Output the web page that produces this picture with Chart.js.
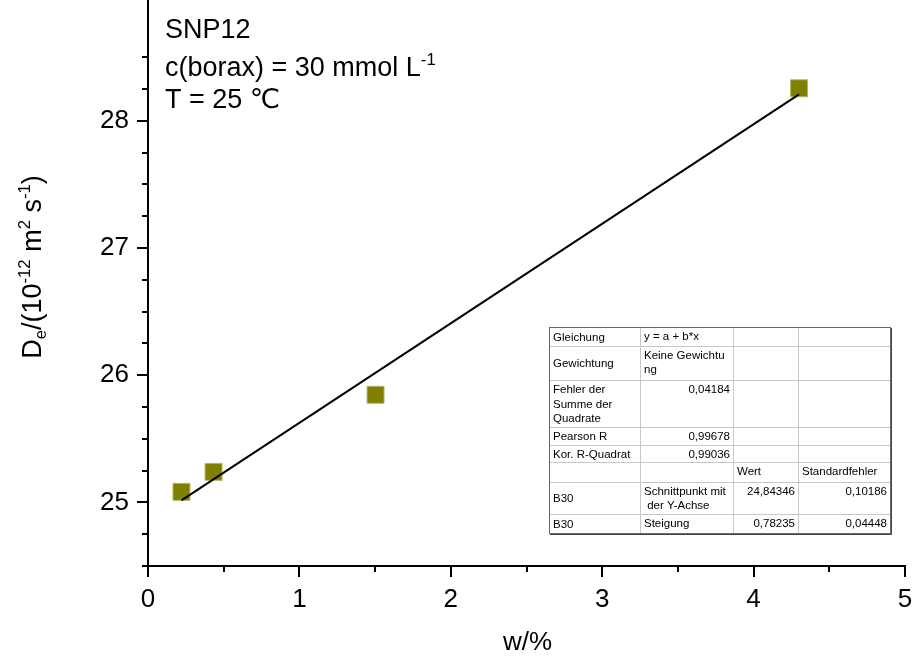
<!DOCTYPE html>
<html>
<head>
<meta charset="utf-8">
<script src="https://cdn.jsdelivr.net/npm/chart.js@4/dist/chart.umd.min.js"></script>
<style>
  html, body { margin: 0; padding: 0; background: #ffffff; }
  #wrap { width: 915px; height: 661px; position: relative; }
</style>
</head>
<body>
<div id="wrap"><canvas id="c" width="915" height="661"></canvas></div>
<script>
// Measured effective diffusion coefficients vs. SNP12 mass fraction
const massFraction = [0.221, 0.433, 1.503, 4.30];
const diffusionCoeff = [25.083, 25.24, 25.846, 28.256];

// Linear fit y = a + b*x
const fitIntercept = 24.84346;
const fitSlope = 0.78235;

// Axis ranges and tick steps
const xRange = [0, 5];
const yRange = [24.5, 28.95];
const xMinorStep = 0.5;
const yMinorStep = 0.25;

// Annotation text
const noteLines = [
  [{ t: 'SNP12' }],
  [{ t: 'c(borax) = 30 mmol L' }, { t: '-1', sup: true }],
  [{ t: 'T = 25 \u2103' }]
];

// Axis titles
const xTitle = 'w/%';
const yTitleParts = [
  { t: 'D' }, { t: 'e', sub: true }, { t: '/(10' }, { t: '-12', sup: true },
  { t: ' m' }, { t: '2', sup: true }, { t: ' s' }, { t: '-1', sup: true }, { t: ')' }
];

// Fit report table
const tableRows = [
  ['Gleichung', 'y = a + b*x', '', ''],
  ['Gewichtung', 'Keine Gewichtu\nng', '', ''],
  ['Fehler der\nSumme der\nQuadrate', '0,04184', '', ''],
  ['Pearson R', '0,99678', '', ''],
  ['Kor. R-Quadrat', '0,99036', '', ''],
  ['', '', 'Wert', 'Standardfehler'],
  ['B30', 'Schnittpunkt mit\n der Y-Achse', '24,84346', '0,10186'],
  ['B30', 'Steigung', '0,78235', '0,04448']
];

const FONT = '"Liberation Sans", Arial, "DejaVu Sans", sans-serif';
const fitX = [Math.min(...massFraction), Math.max(...massFraction)];
const fitLine = fitX.map(x => ({ x: x, y: fitIntercept + fitSlope * x }));
const points = massFraction.map((x, i) => ({ x: x, y: diffusionCoeff[i] }));

function drawRich(ctx, parts, x, y, size) {
  let cx = x;
  parts.forEach(p => {
    const s = (p.sub || p.sup) ? size * 0.62 : size;
    ctx.font = s + 'px ' + FONT;
    let dy = 0;
    if (p.sup) dy = -size * 0.42;
    if (p.sub) dy = size * 0.2;
    ctx.fillText(p.t, cx, y + dy);
    cx += ctx.measureText(p.t).width;
  });
  return cx - x;
}
function richWidth(ctx, parts, size) {
  let w = 0;
  parts.forEach(p => {
    const s = (p.sub || p.sup) ? size * 0.62 : size;
    ctx.font = s + 'px ' + FONT;
    w += ctx.measureText(p.t).width;
  });
  return w;
}

const decorations = {
  id: 'decorations',
  afterDraw(chart) {
    const ctx = chart.ctx;
    const xs = chart.scales.x, ys = chart.scales.y;
    const area = chart.chartArea;
    ctx.save();
    ctx.strokeStyle = '#000';
    ctx.lineWidth = 2;
    ctx.lineCap = 'butt';
    // tick marks (outward), major long, minor short
    xs.ticks.forEach(t => {
      const px = Math.round(xs.getPixelForValue(t.value));
      const major = Math.abs(t.value - Math.round(t.value)) < 1e-6;
      ctx.beginPath();
      ctx.moveTo(px, area.bottom);
      ctx.lineTo(px, area.bottom + (major ? 11 : 6));
      ctx.stroke();
    });
    ys.ticks.forEach(t => {
      const py = Math.round(ys.getPixelForValue(t.value));
      const major = Math.abs(t.value - Math.round(t.value)) < 1e-6;
      ctx.beginPath();
      ctx.moveTo(area.left, py);
      ctx.lineTo(area.left - (major ? 11 : 6), py);
      ctx.stroke();
    });

    // annotations
    ctx.fillStyle = '#000';
    ctx.textBaseline = 'alphabetic';
    ctx.textAlign = 'left';
    const baselines = [38, 76, 108];
    noteLines.forEach((ln, i) => drawRich(ctx, ln, area.left + 17, area.top + baselines[i], 27));

    // x title
    ctx.font = '26px ' + FONT;
    ctx.textAlign = 'center';
    ctx.fillText(xTitle, (area.left + area.right) / 2 + 1, 650);

    // y title, rotated
    ctx.save();
    ctx.translate(41, 267);
    ctx.rotate(-Math.PI / 2);
    ctx.textAlign = 'left';
    const w = richWidth(ctx, yTitleParts, 27);
    drawRich(ctx, yTitleParts, -w / 2, 0, 27);
    ctx.restore();

    // fit report table
    const colW = [91, 93, 65, 92];
    const rowH = [19, 34, 47, 18, 17, 20, 32, 19];
    const tx = 549, ty = 327;
    const tw = colW.reduce((a, b) => a + b, 0);
    const th = rowH.reduce((a, b) => a + b, 0);
    ctx.fillStyle = '#fff';
    ctx.fillRect(tx, ty, tw, th);
    ctx.lineWidth = 1;
    ctx.strokeStyle = '#c8c8c8';
    let yy = ty;
    rowH.forEach((h, i) => {
      if (i > 0) { ctx.beginPath(); ctx.moveTo(tx, yy + 0.5); ctx.lineTo(tx + tw, yy + 0.5); ctx.stroke(); }
      yy += h;
    });
    let xx = tx;
    colW.forEach((cw, i) => {
      if (i > 0) { ctx.beginPath(); ctx.moveTo(xx + 0.5, ty); ctx.lineTo(xx + 0.5, ty + th); ctx.stroke(); }
      xx += cw;
    });
    ctx.strokeStyle = '#6a6a6a';
    ctx.strokeRect(tx + 0.5, ty + 0.5, tw, th);
    ctx.strokeStyle = '#444';
    ctx.beginPath();
    ctx.moveTo(tx + tw + 1.5, ty + 1); ctx.lineTo(tx + tw + 1.5, ty + th + 1.5); ctx.lineTo(tx + 1, ty + th + 1.5);
    ctx.stroke();

    ctx.font = '11.5px ' + FONT;
    ctx.fillStyle = '#000';
    ctx.textBaseline = 'middle';
    const lh = 14.5;
    yy = ty;
    tableRows.forEach((row, ri) => {
      let cx = tx;
      row.forEach((cell, ci) => {
        if (cell) {
          const lines = cell.split('\n');
          const numeric = /^[\d,]+$/.test(cell);
          let y0;
          if (ci === 0) y0 = yy + rowH[ri] / 2 - (lines.length - 1) * lh / 2 + 1;
          else y0 = yy + 9.5;
          lines.forEach((l, li) => {
            if (numeric) { ctx.textAlign = 'right'; ctx.fillText(l, cx + colW[ci] - 3, y0 + li * lh); }
            else { ctx.textAlign = 'left'; ctx.fillText(l, cx + 4, y0 + li * lh); }
          });
        }
        cx += colW[ci];
      });
      yy += rowH[ri];
    });
    ctx.restore();
  }
};

new Chart(document.getElementById('c'), {
  type: 'scatter',
  data: {
    datasets: [
      {
        type: 'line',
        data: fitLine,
        borderColor: '#000',
        borderWidth: 2,
        pointRadius: 0,
        fill: false,
        order: 0
      },
      {
        data: points,
        pointStyle: 'rect',
        pointRadius: 12,
        pointHoverRadius: 12,
        backgroundColor: '#808000',
        borderColor: '#b4b46a',
        borderWidth: 1,
        order: 1
      }
    ]
  },
  plugins: [decorations],
  options: {
    responsive: false,
    animation: false,
    events: [],
    layout: { autoPadding: false, padding: { top: 0, right: 10, left: 0, bottom: 0 } },
    plugins: { legend: { display: false }, tooltip: { enabled: false } },
    scales: {
      x: {
        type: 'linear',
        min: xRange[0], max: xRange[1],
        border: { display: true, color: '#000', width: 2 },
        grid: { display: false, drawTicks: true, tickLength: 11 },
        ticks: {
          stepSize: xMinorStep,
          padding: 7,
          color: '#000',
          font: { family: FONT, size: 26 },
          maxRotation: 0,
          autoSkip: false,
          callback: v => Math.abs(v - Math.round(v)) < 1e-6 ? String(Math.round(v)) : ''
        },
        afterFit: s => { s.height = 95; s.paddingLeft = 0; s.paddingRight = 0; }
      },
      y: {
        type: 'linear',
        min: yRange[0], max: yRange[1],
        border: { display: true, color: '#000', width: 2 },
        grid: { display: false, drawTicks: true, tickLength: 11 },
        ticks: {
          stepSize: yMinorStep,
          padding: 8,
          color: '#000',
          font: { family: FONT, size: 26 },
          autoSkip: false,
          callback: v => Math.abs(v - Math.round(v)) < 1e-6 ? String(Math.round(v)) : ''
        },
        afterBuildTicks: s => {
          s.ticks = s.ticks.filter(t => Math.abs(t.value / yMinorStep - Math.round(t.value / yMinorStep)) < 1e-6);
        },
        afterFit: s => { s.width = 148; s.paddingTop = 0; s.paddingBottom = 0; }
      }
    }
  }
});
</script>
</body>
</html>
